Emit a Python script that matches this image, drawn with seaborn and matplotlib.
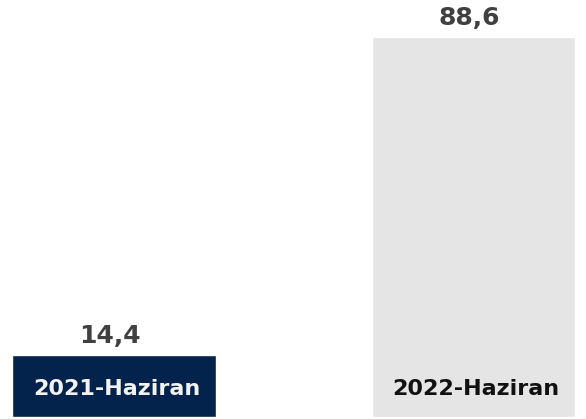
import matplotlib
matplotlib.use("Agg")
import matplotlib.pyplot as plt
import seaborn as sns
import pandas as pd

periods = ["2021-Haziran", "2022-Haziran"]
values = [14.4, 88.6]
value_labels = ["14,4", "88,6"]
bar_colors = ["#03224c", "#e5e5e5"]
label_colors = ["#f2f2f2", "#111111"]

df = pd.DataFrame({"period": periods, "value": values})

sns.set_theme(style="white")
plt.rcParams["font.family"] = ["DejaVu Sans"]

fig = plt.figure(figsize=(5.86, 4.19), dpi=100)
ax = fig.add_axes([0, 0, 1, 1])

sns.barplot(data=df, x="period", y="value", hue="period", palette=bar_colors,
            width=0.567, legend=False, ax=ax, saturation=1)

ax.set_xlim(-0.317, 1.313)
ax.set_ylim(-0.47, 97.2)

for i, (v, lab) in enumerate(zip(values, value_labels)):
    ax.annotate(lab, (i, v), xytext=(-3, 5), textcoords="offset points",
                ha="center", va="bottom", fontsize=18, fontweight="bold",
                color="#404040")
    ax.annotate(periods[i], (i, 0), xytext=(2, 20), textcoords="offset points",
                ha="center", va="center", fontsize=16, fontweight="bold",
                color=label_colors[i])

ax.set_axis_off()
fig.savefig("out.png", dpi=100)
